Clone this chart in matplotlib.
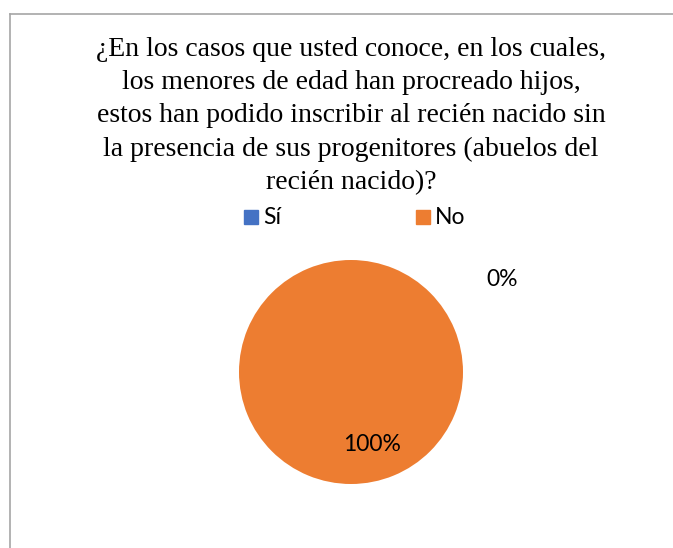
import matplotlib.pyplot as plt
from matplotlib.lines import Line2D
from matplotlib.patches import Rectangle

# data
categories = ['Sí', 'No']
values = [0, 100]
colors = ['#4472C4', '#ED7D31']
title_lines = [
    '¿En los casos que usted conoce, en los cuales,',
    'los menores de edad han procreado hijos,',
    'estos han podido inscribir al recién nacido sin',
    'la presencia de sus progenitores (abuelos del',
    'recién nacido)?',
]

W, H = 673, 548
fig = plt.figure(figsize=(W / 100, H / 100), dpi=100)

# chart border (top and left visible, right/bottom cut off)
fig.add_artist(Line2D([10 / W, 1.0], [1 - 14 / H, 1 - 14 / H], color='#a6a6a6', lw=1.2))
fig.add_artist(Line2D([10 / W, 10 / W], [0, 1 - 14 / H], color='#a6a6a6', lw=1.2))

# title
for i, line in enumerate(title_lines):
    fig.text(351 / W, 1 - (49 + i * 33.5) / H, line, ha='center', va='center',
             fontsize=20, family='Liberation Serif', color='#000000')

# legend
for cat, col, sx in zip(categories, colors, [244, 416]):
    fig.add_artist(Rectangle((sx / W, 1 - 224 / H), 14 / W, 14 / H, color=col,
                             transform=fig.transFigure))
    fig.text((sx + 19) / W, 1 - 217 / H, cat, ha='left', va='center',
             fontsize=16.5, family='Lato', color='#000000')

# pie
cx, cy, r = 351, 372, 112
ax = fig.add_axes([(cx - r) / W, (H - cy - r) / H, 2 * r / W, 2 * r / H])
ax.pie(values, colors=colors, startangle=90, counterclock=False, radius=1,
       wedgeprops=dict(linewidth=0))
ax.set_xlim(-1, 1)
ax.set_ylim(-1, 1)
ax.set_aspect('equal')
ax.axis('off')

pct = [f'{v / sum(values) * 100:.0f}%' for v in values]
ax.text(1.35, 0.83, pct[0], ha='center', va='center', fontsize=16.5,
        family='Lato', color='#000000', clip_on=False)
ax.text(0.19, -0.65, pct[1], ha='center', va='center', fontsize=16.5,
        family='Lato', color='#000000')

fig.savefig('out.png', dpi=100)
